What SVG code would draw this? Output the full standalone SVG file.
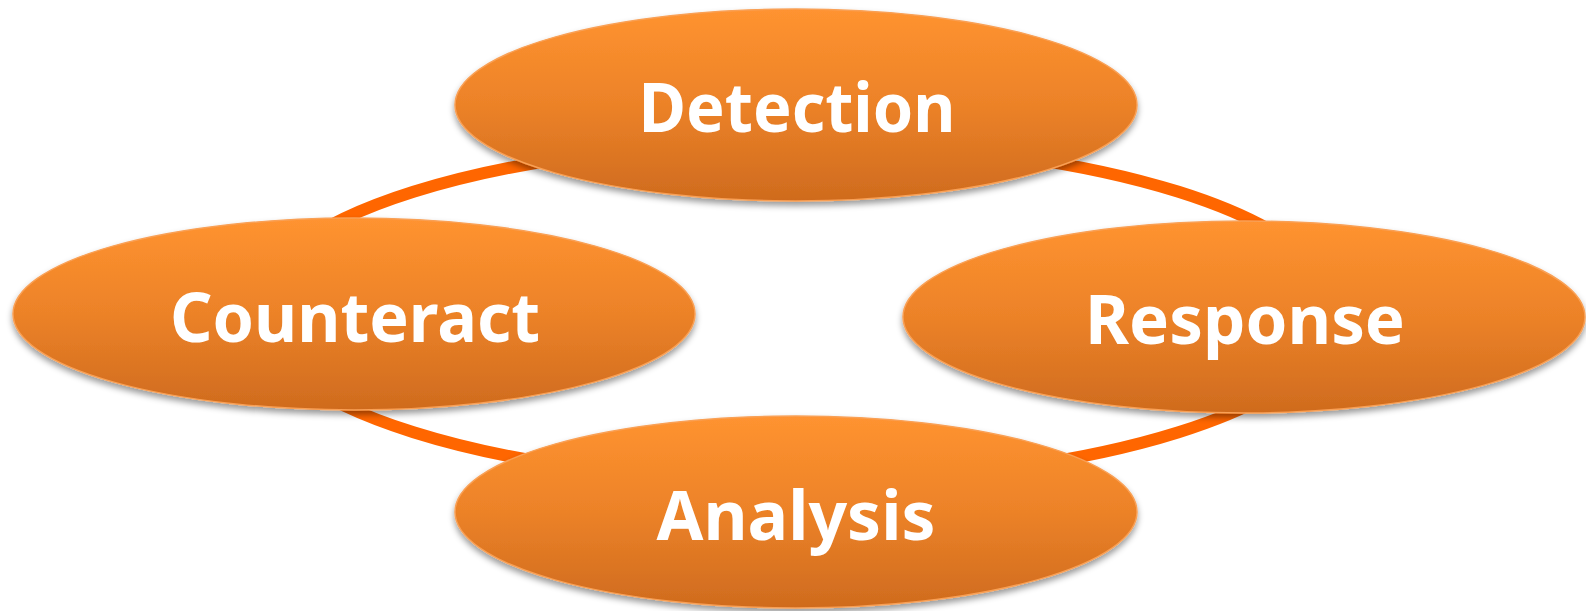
<svg xmlns="http://www.w3.org/2000/svg" width="1586" height="611" viewBox="0 0 1586 611">
  <defs>
    <linearGradient id="fillGrad" x1="0" y1="0" x2="0" y2="1">
      <stop offset="0" stop-color="#FF9330"/>
      <stop offset="0.5" stop-color="#EC8228"/>
      <stop offset="1" stop-color="#CF6B1E"/>
    </linearGradient>
    <filter id="shadow" x="-10%" y="-20%" width="120%" height="150%">
      <feDropShadow dx="0" dy="4" stdDeviation="3" flood-color="#000" flood-opacity="0.4"/>
    </filter>
  </defs>
  <style>
    .node { fill: url(#fillGrad); stroke: #F9A055; stroke-width: 1.5; filter: url(#shadow); }
    .label { font-family: "Noto Sans", "Open Sans", "DejaVu Sans", sans-serif; font-weight: bold; font-size: 68px; fill: #FFFFFF; text-anchor: middle; }
    .ring { fill: none; stroke: #FF6600; stroke-width: 12; }
  </style>
  <rect width="1586" height="611" fill="#FFFFFF"/>
  <g id="connectors">
    <path class="ring" d="M 796 142 A 541 170 0 0 1 1337 312"/>
    <path class="ring" d="M 1337 312 A 541 170 0 0 1 796 482"/>
    <path class="ring" d="M 796 482 A 541 170 0 0 1 255 312"/>
    <path class="ring" d="M 255 312 A 541 170 0 0 1 796 142"/>
  </g>
  <g id="node-detection">
    <ellipse class="node" cx="796" cy="105" rx="341" ry="96"/>
    <text class="label" x="797" y="132" textLength="317" lengthAdjust="spacingAndGlyphs">Detection</text>
  </g>
  <g id="node-counteract">
    <ellipse class="node" cx="354" cy="314" rx="341" ry="96"/>
    <text class="label" x="355" y="342" textLength="370" lengthAdjust="spacingAndGlyphs">Counteract</text>
  </g>
  <g id="node-response">
    <ellipse class="node" cx="1244" cy="317" rx="341" ry="96"/>
    <text class="label" x="1245" y="344" textLength="320" lengthAdjust="spacingAndGlyphs">Response</text>
  </g>
  <g id="node-analysis">
    <ellipse class="node" cx="796" cy="512" rx="341" ry="96"/>
    <text class="label" x="796" y="540" textLength="279" lengthAdjust="spacingAndGlyphs">Analysis</text>
  </g>
</svg>
